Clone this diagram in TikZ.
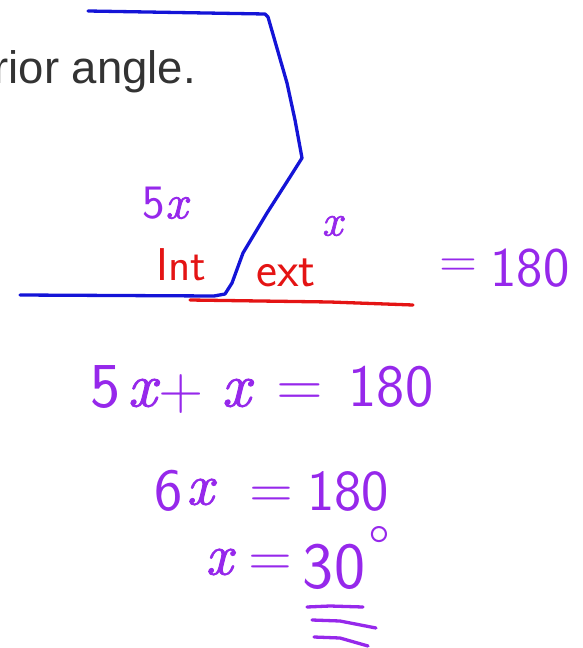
\documentclass[tikz,border=0pt]{standalone}
\usepackage{fontspec}
\newfontfamily\arialfont{Liberation Sans}
\newfontfamily\handxfont[FakeBold=1.6]{lmroman10-italic.otf}
\usepackage{tikz}
\usetikzlibrary{positioning}
\definecolor{penblue}{RGB}{20,20,215}
\definecolor{penred}{RGB}{228,20,20}
\definecolor{penpurple}{RGB}{150,40,235}
\newcommand{\hx}{{\handxfont x}}
\tikzset{
    handpen/.style={line width=3.3pt,line cap=round,line join=round},
    hand/.style={text=penpurple,inner sep=0pt,font=\fontsize{#1}{#1}\selectfont\sffamily},
    handred/.style={text=penred,inner sep=0pt,font=\fontsize{#1}{#1}\selectfont\sffamily},
    printed/.style={text=black!80,inner sep=0pt,font=\fontsize{45.5}{50}\selectfont\arialfont}
}
\begin{document}
\begin{tikzpicture}[x=1pt,y=-1pt]
  \useasboundingbox (0,0) rectangle (583,648);

  % printed question (cut at the left)
  \node[printed,anchor=base east] (head) at (196,83) {erior angle.};

  % polygon corner
  \draw[handpen,penblue]
    (88,11) -- (265,14) -- (268,17) -- (287,83) -- (295,120) -- (302,158)
    -- (290,177) -- (267,213) -- (243,253) -- (232,283) -- (225,294) -- (214,296) -- (20,295);
  \draw[handpen,penred] (190,300) -- (260,301) -- (330,302) -- (413,305);

  % angle labels
  \node[hand=48] (int-val) at (165,203) {5\hx};
  \node[handred=46] (int) at (181,265) {Int};
  \node[handred=50] (ext) at (286,273) {ext};
  \node[hand=44] (ext-val) at (332,226) {\hx};
  \node[hand=52] (sum-eq) at (459,268) {=};
  \node[hand=56] (sum-val) at (530,268) {180};

  % working
  \foreach \t/\px/\py/\s [count=\i] in {5/106/387/64, \hx/142/393/62, +/181/394/62,
      \hx/236/393/62, =/300/395/64, 180/391/387/60}{
    \node[hand=\s] (line1-\i) at (\px,\py) {\t};
  }
  \foreach \t/\px/\py/\s [count=\i] in {6/169/491/60, \hx/200/492/58,
      =/271/498/60, 180/348/491/58}{
    \node[hand=\s] (line2-\i) at (\px,\py) {\t};
  }
  \foreach \t/\px/\py/\s [count=\i] in {\hx/219/562/58, =/270/566/60, 30/334/567/66}{
    \node[hand=\s] (line3-\i) at (\px,\py) {\t};
  }
  \node[hand=62,anchor=north] (deg) at (379,526) {°};

  % double underline
  \draw[handpen,penpurple] (307,607) -- (330,606) -- (363,607);
  \draw[handpen,penpurple] (312,620) -- (340,621) -- (376,628);
  \draw[handpen,penpurple] (314,637) -- (340,638) -- (368,646);
\end{tikzpicture}
\end{document}
